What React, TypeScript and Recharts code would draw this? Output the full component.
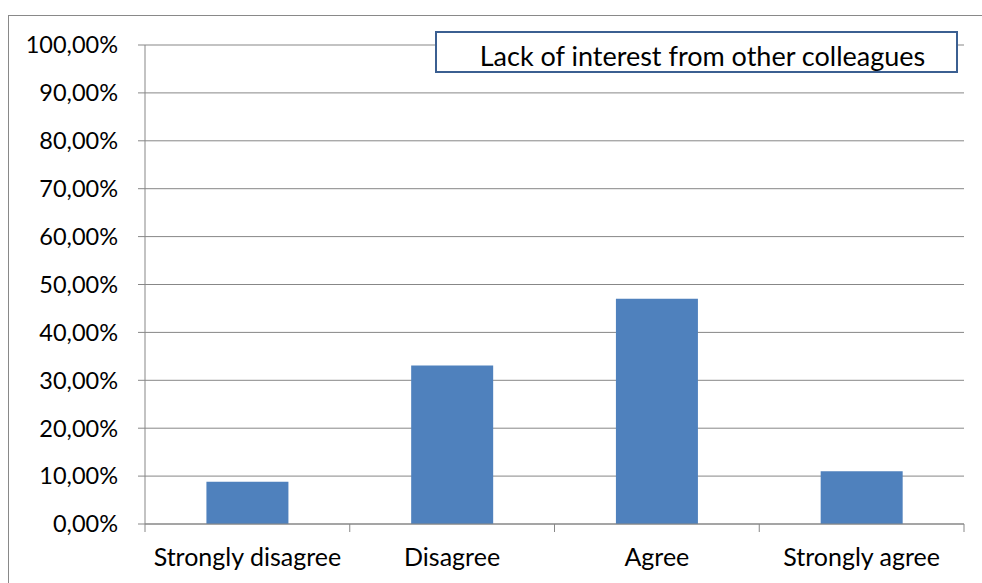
import React from 'react';
import { BarChart, Bar, XAxis, YAxis, CartesianGrid } from 'recharts';

const categories = ['Strongly disagree', 'Disagree', 'Agree', 'Strongly agree'];
const shares = [8.8, 33.1, 47.0, 11.0];
const yTicks = [0, 10, 20, 30, 40, 50, 60, 70, 80, 90, 100];
const seriesName = 'Lack of interest from other colleagues';

const data = categories.map((c, i) => ({ category: c, value: shares[i] }));

const FONT = 'Lato, "Open Sans", sans-serif';
const GRID = '#878787';

const fmtPct = (v: number) => v.toFixed(2).replace('.', ',') + '%';

// Excel style: ticks sit on category boundaries, label at centre
const CategoryTick = (props: any) => {
  const { x, y, payload, index, visibleTicksCount } = props;
  const half = payload.offset || 0;
  const last = index === visibleTicksCount - 1;
  return (
    <g>
      <line x1={x - half} x2={x - half} y1={y - 24} y2={y - 16} stroke={GRID} />
      {last && <line x1={x + half} x2={x + half} y1={y - 24} y2={y - 16} stroke={GRID} />}
      <text x={x} y={y} dy="0.71em" textAnchor="middle" fill="#000" fontSize={25} fontFamily={FONT}>
        {payload.value}
      </text>
    </g>
  );
};

export default function App() {
  return (
    <div style={{ position: 'fixed', left: 0, top: 0, width: 982, height: 583, background: '#fff', overflow: 'hidden' }}>
      <div
        style={{
          position: 'absolute',
          left: 8,
          top: 15,
          width: 1000,
          height: 600,
          border: '1px solid #898989',
        }}
      />
      <div style={{ position: 'absolute', left: 0, top: 0 }}>
        <BarChart
          width={982}
          height={583}
          data={data}
          margin={{ top: 45, right: 18, left: 0, bottom: 0 }}
          barCategoryGap="30%"
        >
          <CartesianGrid vertical={false} stroke={GRID} />
          <XAxis
            dataKey="category"
            height={59}
            stroke={GRID}
            tickLine={false}
            tickSize={8}
            tickMargin={16}
            tick={<CategoryTick />}
            interval={0}
          />
          <YAxis
            width={145}
            domain={[0, 100]}
            ticks={yTicks}
            stroke={GRID}
            tickSize={7}
            tickMargin={20}
            tickFormatter={fmtPct}
            tick={{ fill: '#000', fontSize: 23.5, fontFamily: FONT }}
            interval={0}
          />
          <Bar dataKey="value" name={seriesName} fill="#4F81BD" isAnimationActive={false} />
        </BarChart>
      </div>
      <div
        style={{
          position: 'absolute',
          left: 435,
          top: 31,
          boxSizing: 'border-box',
          width: 523,
          height: 42,
          border: '2px solid #3B5F91',
          background: '#fff',
          display: 'flex',
          alignItems: 'center',
          justifyContent: 'center',
          paddingLeft: 12,
          paddingTop: 6,
          fontFamily: FONT,
          fontSize: 27,
          color: '#000',
          whiteSpace: 'nowrap',
        }}
      >
        {seriesName}
      </div>
    </div>
  );
}
